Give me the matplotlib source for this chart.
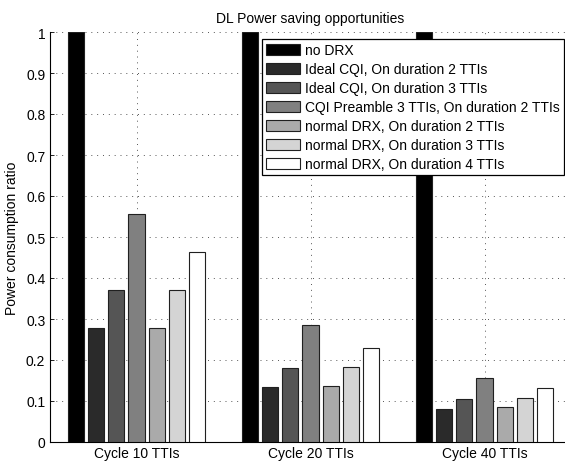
import numpy as np
import matplotlib.pyplot as plt

plt.rcParams['font.family'] = ['Liberation Sans', 'DejaVu Sans']

# cycle lengths on the x axis
cycles = ['Cycle 10 TTIs', 'Cycle 20 TTIs', 'Cycle 40 TTIs']

series_names = [
    'no DRX',
    'Ideal CQI, On duration 2 TTIs',
    'Ideal CQI, On duration 3 TTIs',
    'CQI Preamble 3 TTIs, On duration 2 TTIs',
    'normal DRX, On duration 2 TTIs',
    'normal DRX, On duration 3 TTIs',
    'normal DRX, On duration 4 TTIs',
]

# power consumption ratio per series, one value per cycle
no_drx = [1.0, 1.0, 1.0]
ideal_cqi_on2 = [0.278, 0.133, 0.081]
ideal_cqi_on3 = [0.370, 0.181, 0.106]
cqi_pre3_on2 = [0.555, 0.286, 0.157]
normal_on2 = [0.278, 0.136, 0.086]
normal_on3 = [0.370, 0.182, 0.108]
normal_on4 = [0.463, 0.230, 0.132]

series_values = [no_drx, ideal_cqi_on2, ideal_cqi_on3, cqi_pre3_on2,
                 normal_on2, normal_on3, normal_on4]

# matlab style gray colormap, 7 levels
colors = ['#000000', '#2a2a2a', '#555555', '#808080', '#aaaaaa', '#d4d4d4', '#ffffff']


def main():
    fig = plt.figure(figsize=(5.65, 4.64), dpi=100)
    # axes runs a bit past the right border, like the original crop
    ax = fig.add_axes([49.5 / 565, 21 / 464, 522 / 565, 410 / 464])

    x = np.arange(1, len(cycles) + 1)
    step = 0.115
    width = 0.092
    n = len(series_values)
    for i, (vals, name, col) in enumerate(zip(series_values, series_names, colors)):
        offset = (i - (n - 1) / 2) * step
        ax.bar(x + offset, vals, width, color=col, edgecolor='#202020',
               linewidth=0.8, label=name, zorder=3)

    ax.set_xlim(0.5, 3.5)
    ax.set_ylim(0, 1)
    ax.set_xticks(x)
    ax.set_xticklabels(cycles, fontsize=10)
    ax.set_yticks(np.arange(0, 1.01, 0.1))
    ax.set_yticklabels(['0', '0.1', '0.2', '0.3', '0.4', '0.5', '0.6', '0.7', '0.8', '0.9', '1'],
                       fontsize=10)
    ax.tick_params(direction='in', length=3, width=0.6, pad=3)
    ax.set_axisbelow(True)
    ax.grid(True, linestyle=(0, (1, 5)), color='#555555', linewidth=0.7)

    ax.spines['top'].set_visible(False)
    ax.spines['right'].set_visible(False)
    ax.spines['left'].set_linewidth(0.8)
    ax.spines['bottom'].set_linewidth(0.8)

    ax.set_ylabel('Power consumption ratio', fontsize=10, labelpad=5)
    ax.set_title('DL Power saving opportunities', fontsize=10, pad=7)

    leg = fig.legend(loc='upper right', bbox_to_anchor=(564 / 565, 1 - 40 / 464),
                     fontsize=10, frameon=True, fancybox=False, shadow=False,
                     handlelength=2.45, handleheight=0.9, handletextpad=0.35,
                     labelspacing=0.36, borderpad=0.3, borderaxespad=0)
    leg.get_frame().set_edgecolor('black')
    leg.get_frame().set_linewidth(0.9)
    leg.get_frame().set_alpha(1)

    fig.savefig('out.png', dpi=100)


if __name__ == '__main__':
    main()
